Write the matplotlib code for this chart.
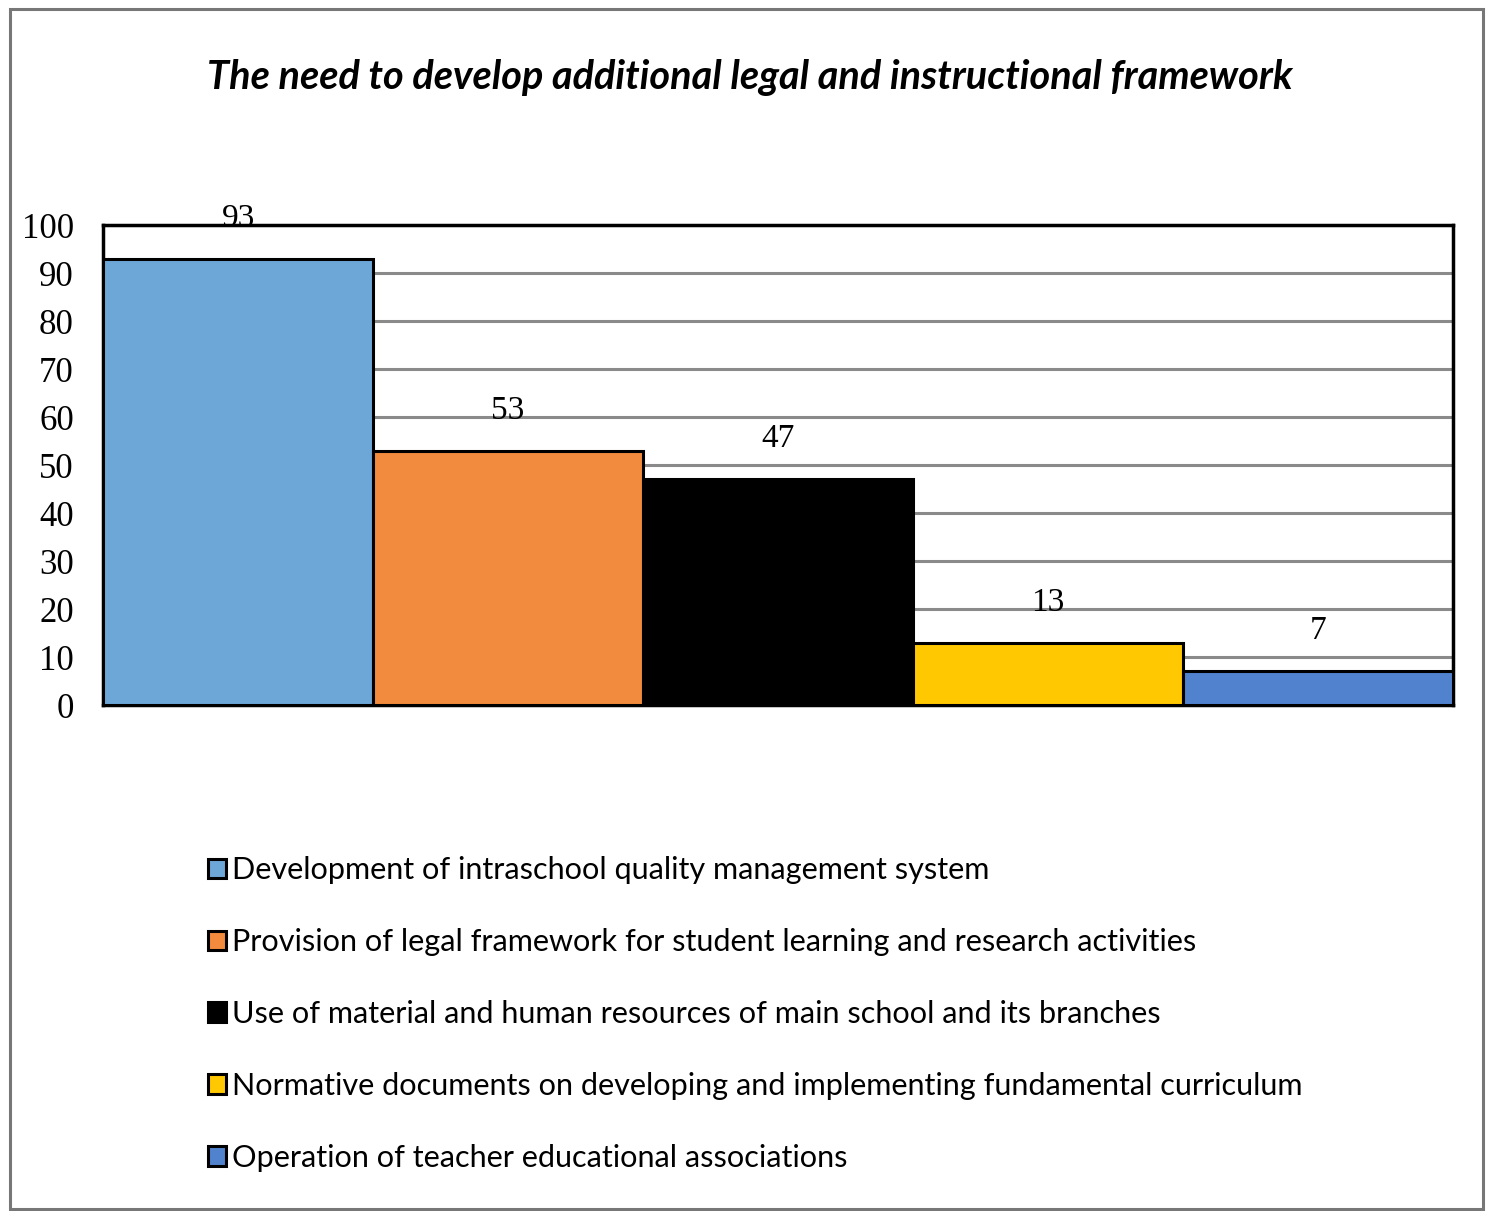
import matplotlib
matplotlib.use('Agg')
import matplotlib.pyplot as plt
from matplotlib.patches import Rectangle

categories = [
    "Development of intraschool quality management system",
    "Provision of legal framework for student learning and research activities",
    "Use of material and human resources of main school and its branches",
    "Normative documents on developing and implementing fundamental curriculum",
    "Operation of teacher educational associations",
]
values = [93, 53, 47, 13, 7]
colors = ["#6CA7D7", "#F28B3D", "#000000", "#FFC800", "#5082CE"]
yticks = list(range(0, 101, 10))
title = "The need to develop additional legal and instructional framework"

fig = plt.figure(figsize=(14.93, 12.11), dpi=100)
ax = fig.add_axes([0.069, 0.4178, 0.9042, 0.3964])

x = list(range(len(values)))
bars = ax.bar(x, values, width=1.0, color=colors, edgecolor="black",
              linewidth=2.2, zorder=3)

for xi, v in zip(x, values):
    ax.annotate(str(v), (xi, v), xytext=(0, 29), textcoords="offset points",
                ha="center", va="center", fontsize=24,
                family="Liberation Serif", zorder=5)

ax.set_xlim(-0.5, len(values) - 0.5)
ax.set_ylim(0, 100)
ax.set_yticks(yticks)
ax.set_xticks([])
for lab in ax.get_yticklabels():
    lab.set_family("Liberation Serif")
    lab.set_fontsize(25)
ax.tick_params(axis="y", length=0, pad=21)
ax.yaxis.grid(True, color="#8a8a8a", linewidth=2.2, zorder=0)
ax.set_axisbelow(True)
for s in ax.spines.values():
    s.set_linewidth(2.5)
    s.set_color("black")

fig.text(0.502, 0.936, title, ha="center", va="center", fontsize=28.5,
         fontweight="bold", fontstyle="italic", family="Lato")

leg = fig.legend(bars.patches, categories, loc="upper left",
                 bbox_to_anchor=(0.139, 0.293), frameon=False,
                 prop={"family": "Lato", "size": 22.1},
                 handlelength=0.6, handleheight=0.6, handletextpad=0.2,
                 labelspacing=1.43, borderpad=0, borderaxespad=0)

# outer frame around the whole chart
fig.patches.append(Rectangle((0.0067, 0.0017), 0.9866, 0.9909,
                             transform=fig.transFigure, fill=False,
                             edgecolor="#777777", linewidth=2.2))

fig.savefig("out.png", dpi=100, facecolor="white")
